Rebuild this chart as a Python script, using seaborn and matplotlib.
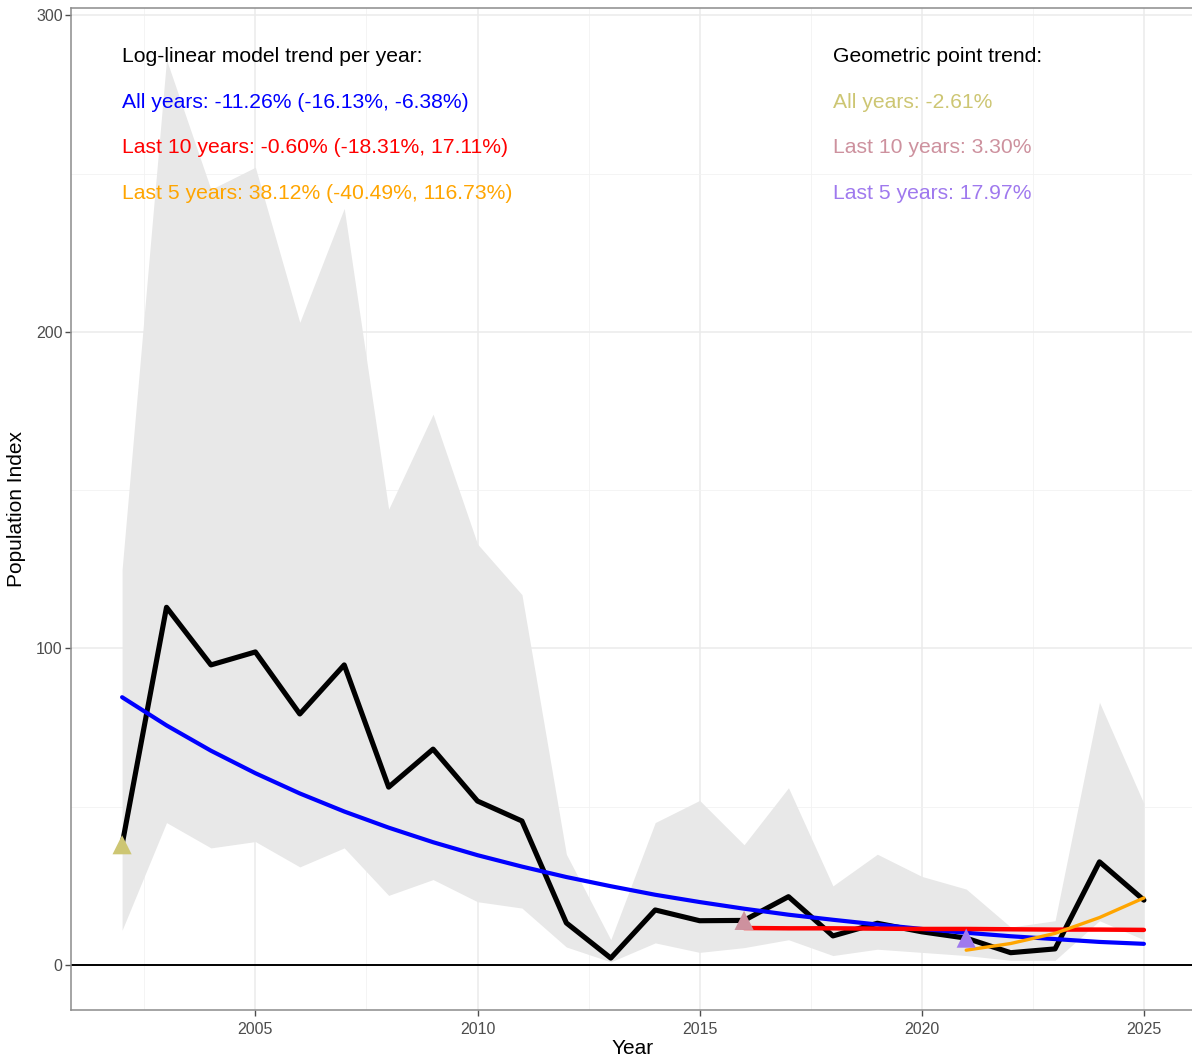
import numpy as np
import pandas as pd
import matplotlib
matplotlib.use("Agg")
import matplotlib.pyplot as plt
import seaborn as sns

# Population index per year, with confidence band
years = list(range(2002, 2026))
index = [38, 113, 94.8, 98.9, 79.3, 94.8, 56.2, 68.2, 51.8, 45.5, 13.3, 2.2,
         17.4, 14.0, 14.1, 21.6, 9.2, 13.2, 10.5, 8.5, 3.9, 5.1, 32.6, 20.5]
upper = [125, 286, 245, 252, 203, 239, 144, 174, 133, 117, 35, 8,
         45, 52, 38, 56, 25, 35, 28, 24, 12, 14, 83, 51]
lower = [11, 45, 37, 39, 31, 37, 22, 27, 20, 18, 5.7, 1,
         7, 4, 5.5, 8, 3, 5, 4, 3, 1.5, 1.5, 14, 8]

# Fitted log-linear trend values
trend_all = [84.6, 75.7, 67.7, 60.6, 54.2, 48.5, 43.4, 38.8, 34.7, 31.1, 27.8, 24.9,
             22.2, 19.9, 17.8, 15.9, 14.3, 12.8, 11.4, 10.2, 9.1, 8.2, 7.3, 6.7]
years_10 = list(range(2016, 2026))
trend_10 = [11.7, 11.6, 11.6, 11.5, 11.4, 11.4, 11.3, 11.2, 11.2, 11.1]
years_5 = list(range(2021, 2026))
trend_5 = [4.7, 6.8, 10.0, 15.0, 21.2]

# Start points of geometric point trends
geo_years = [2002, 2016, 2021]
geo_colors = ["#CDC673", "#CD919E", "#9F79EE"]

loglin_labels = ["All years: -11.26% (-16.13%, -6.38%)",
                 "Last 10 years: -0.60% (-18.31%, 17.11%)",
                 "Last 5 years: 38.12% (-40.49%, 116.73%)"]
loglin_colors = ["blue", "red", "orange"]
geo_labels = ["All years: -2.61%", "Last 10 years: 3.30%", "Last 5 years: 17.97%"]

df = pd.DataFrame({"Year": years, "Index": index, "Upper": upper, "Lower": lower,
                   "Trend": trend_all})
df10 = pd.DataFrame({"Year": years_10, "Trend": trend_10})
df5 = pd.DataFrame({"Year": years_5, "Trend": trend_5})
geo = df[df["Year"].isin(geo_years)]

sns.set_theme(style="whitegrid")
plt.rcParams["font.family"] = ["Liberation Sans", "DejaVu Sans"]

fig = plt.figure(figsize=(11.92, 10.59), dpi=100)
ax = fig.add_axes([71 / 1192, 49 / 1059, 1124 / 1192, 1002 / 1059])

ax.fill_between(df["Year"], df["Lower"], df["Upper"], color="#E8E8E8", lw=0, zorder=1)
ax.axhline(0, color="black", lw=1.4, zorder=2)
sns.lineplot(data=df, x="Year", y="Index", color="black", lw=3.7, ax=ax, zorder=3)
sns.lineplot(data=df, x="Year", y="Trend", color="blue", lw=3.0, ax=ax, zorder=4)
sns.lineplot(data=df10, x="Year", y="Trend", color="red", lw=3.2, ax=ax, zorder=4)
sns.lineplot(data=df5, x="Year", y="Trend", color="orange", lw=2.4, ax=ax, zorder=5)
sns.scatterplot(data=geo, x="Year", y="Index", hue="Year", palette=geo_colors,
                marker="^", s=190, linewidth=0, legend=False, ax=ax, zorder=6)

# annotations
fs = 15.2
ax.text(2002, 287.0, "Log-linear model trend per year:", color="black",
        fontsize=fs, va="center", ha="left")
ax.text(2018, 287.0, "Geometric point trend:", color="black",
        fontsize=fs, va="center", ha="left")
for i, y in enumerate([272.5, 258.1, 243.7]):
    ax.text(2002, y, loglin_labels[i], color=loglin_colors[i], fontsize=fs,
            va="center", ha="left")
    ax.text(2018, y, geo_labels[i], color=geo_colors[i], fontsize=fs,
            va="center", ha="left")

ax.set_xlim(2000.85, 2026.15)
ax.set_ylim(-14.2, 302.3)
ax.set_xticks([2005, 2010, 2015, 2020, 2025])
ax.set_yticks([0, 100, 200, 300])
ax.set_xticks(np.arange(2002.5, 2026, 5), minor=True)
ax.set_yticks([50, 150, 250], minor=True)
ax.grid(which="major", color="#EBEBEB", lw=1.1)
ax.grid(which="minor", color="#F2F2F2", lw=0.6)
ax.set_axisbelow(True)
for s in ax.spines.values():
    s.set_color("#8C8C8C")
    s.set_linewidth(1.1)
ax.tick_params(axis="both", which="major", bottom=True, left=True, length=4,
               width=1, color="#4D4D4D", labelcolor="#4D4D4D", labelsize=11.5)
ax.tick_params(axis="x", which="major", pad=5)
ax.tick_params(axis="y", which="major", pad=2)
ax.tick_params(axis="both", which="minor", length=0)
ax.set_xlabel("Year", fontsize=15, color="black")
ax.set_ylabel("Population Index", fontsize=15, color="black")
ax.xaxis.set_label_coords(0.5, -0.029)
ax.yaxis.set_label_coords(-0.040, 0.5)

fig.savefig("out.png", dpi=100)
